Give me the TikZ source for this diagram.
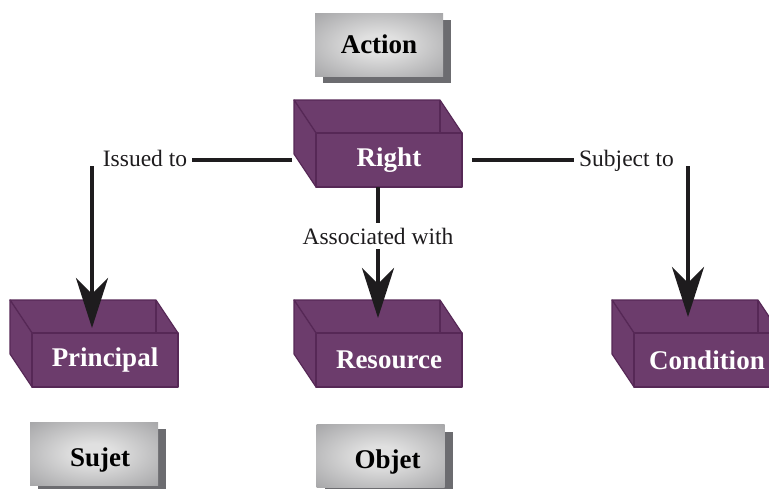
\documentclass[tikz,border=0pt]{standalone}
\usepackage{fontspec}
\setmainfont{Liberation Serif}
\usetikzlibrary{arrows.meta,shadows}
\definecolor{plum}{RGB}{108,60,108}
\definecolor{plumedge}{RGB}{86,40,86}
\definecolor{glowin}{RGB}{224,224,224}
\definecolor{glowout}{RGB}{140,140,143}
\definecolor{shadowgray}{RGB}{108,108,112}
\definecolor{ink}{RGB}{30,28,30}
\pgfdeclareradialshading{glow}{\pgfpoint{0bp}{0bp}}{color(0bp)=(glowin); color(8bp)=(glowin); color(48bp)=(glowout); color(50bp)=(glowout)}

\newcommand\crate[3]{%
    \begin{scope}[shift={(#2)}]
        \filldraw[crateside] (0,0) -- (-22,-33) -- (124,-33) -- (146,0) -- cycle;
        \filldraw[crateside] (0,0) -- (-22,-33) -- (-22,21) -- (0,54) -- cycle;
        \draw[crateside] (124,-33) -- (124,0);
    \end{scope}
    \node[crateface] (#1) at (#2) {#3};
}

\begin{document}
\begin{tikzpicture}[x=1pt, y=-1pt,
    crateside/.style={fill=plum, draw=plumedge, line width=1.2pt, line join=round},
    crateface/.style={crateside, anchor=north west, minimum width=146, minimum height=54, inner sep=0pt, outer sep=0pt, text=white, font=\fontsize{27}{30}\selectfont\bfseries},
    tag/.style={minimum width=128, minimum height=63, inner sep=0pt, shading=glow, text=black, font=\fontsize{27}{30}\selectfont\bfseries, drop shadow={shadow xshift=8pt, shadow yshift=-7pt, fill=shadowgray, opacity=1}},
    lowtag/.style={tag, text height=31pt, text depth=6pt},
    lbl/.style={inner sep=5pt, text=ink, font=\fontsize{23.5}{27}\selectfont},
    link/.style={draw=ink, line width=4pt},
    arrow/.style={link, -{Stealth[length=50pt, width=32pt, inset=16pt]}}]
    \useasboundingbox (0,0) rectangle (769,488);
    \node[tag] (action) at (379,44.5) {Action};
    \node[lowtag] (sujet) at (94,453.5) {\hspace*{12pt}Sujet};
    \node[lowtag] (objet) at (380.5,456) {\hspace*{14pt}Objet};
    \crate{right}{316,133}{Right}
    \crate{principal}{32,333}{Principal}
    \crate{resource}{316,333}{Resource}
    \crate{condition}{634,333}{Condition}
    \node[lbl, anchor=base] (issued) at (145,166) {Issued to};
    \node[lbl, anchor=base] (subject) at (626.5,166) {Subject to};
    \node[lbl, fill=white] (assoc) at (378,236) {Associated with};
    \coordinate (principal-tip) at (92,328);
    \coordinate (resource-tip) at (378,318);
    \coordinate (condition-tip) at (688,317);
    \draw[link] ([xshift=-24pt]right.west) -- (right.west -| issued.east);
    \draw[arrow] (issued.base -| principal-tip) -- (principal-tip);
    \draw[link] ([xshift=10pt]right.east) -- (right.east -| subject.west);
    \draw[arrow] (subject.base -| condition-tip) -- (condition-tip);
    \draw[link] (right.south -| assoc) -- (assoc);
    \draw[arrow] (assoc) -- (resource-tip);
\end{tikzpicture}
\end{document}
